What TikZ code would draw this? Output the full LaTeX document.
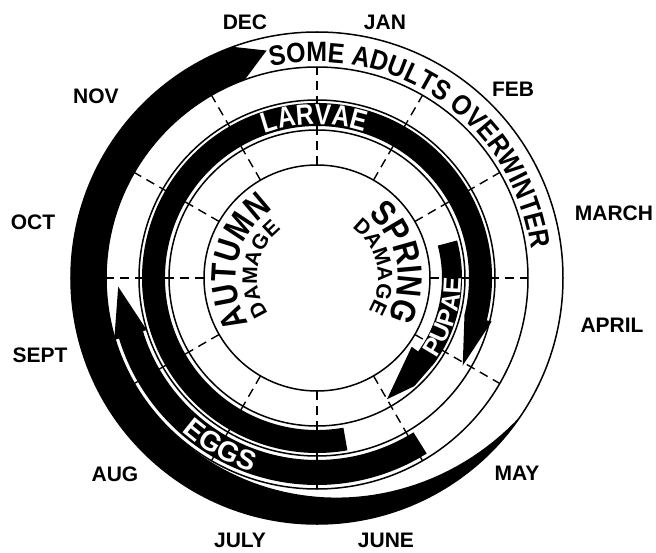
\documentclass[tikz,border=0pt]{standalone}
\usepackage{fontspec}
\setmainfont{Liberation Sans}
\newfontfamily\bandfont[FakeStretch=0.85]{Liberation Sans}
\newfontfamily\ringfont[FakeStretch=0.89]{Liberation Sans}
\usetikzlibrary{decorations.text}

\newcommand\seasonfont{\bandfont\bfseries\fontsize{35}{36}\selectfont}
\newcommand\damagefont{\bfseries\fontsize{21}{22}\selectfont}
\newcommand\larvaefont{\color{white}\bandfont\bfseries\fontsize{29}{30}\selectfont}
\newcommand\eggsfont{\color{white}\bfseries\fontsize{28}{29}\selectfont}
\newcommand\pupaefont{\color{white}\bfseries\fontsize{25}{26}\selectfont}
\newcommand\adultfont{\ringfont\bfseries\fontsize{28}{29}\selectfont}

\begin{document}
\begin{tikzpicture}[x=1pt, y=1pt,
    monthlabel/.style={font=\bfseries\fontsize{21}{22}\selectfont, inner sep=0pt},
    ringline/.style={line width=1.5pt},
    monthtick/.style={line width=1.4pt, dash pattern=on 9pt off 6pt},
    bandfill/.style={fill=black},
    curvetext/.style={decorate, decoration={text along path, text align=center, text={#1}}}
]
\useasboundingbox (-317,-274) rectangle (339,278);

% month boundaries
\foreach \a in {0,30,...,330}
  \draw[monthtick] (\a:113) -- (\a:211);

% rings
\foreach \r in {113,148,178,211,246}
  \draw[ringline] (0,0) circle[radius=\r];

% adults
\fill[bandfill] plot[domain=-34:-140, samples=50] (\x:{211+35*((\x+140)/106)^2})
    arc[start angle=-140, end angle=-250, radius=211]
    -- (-257.5:233) -- (-250:246)
    arc[start angle=-250, end angle=-34, radius=246] -- cycle;

% larvae
\fill[bandfill] (-80:152) arc[start angle=-80, end angle=-374, radius=152]
    -- (-391:170) -- (-374:180) -- (-374:175)
    arc[start angle=-374, end angle=-80, radius=175] -- cycle;

% eggs
\fill[bandfill] (-58:182) arc[start angle=-58, end angle=-163, radius=182]
    -- (-163:178) -- (-177.5:199) -- (-163:212) -- (-163:207)
    arc[start angle=-163, end angle=-58, radius=207] -- cycle;

% pupae
\fill[bandfill] (15:125) arc[start angle=15, end angle=-36, radius=125]
    -- (-36:117) -- (-60:140) -- (-48:145.5) -- (-36:145)
    arc[start angle=-36, end angle=15, radius=145] -- cycle;

% band texts
\path[curvetext={|\larvaefont|LARVAE}] (151:153.5) arc[start angle=151, end angle=31, radius=153.5];
\path[curvetext={|\eggsfont|EGGS}] (-160:204.5) arc[start angle=-160, end angle=-80, radius=204.5];
\path[curvetext={|\pupaefont|PUPAE}] (-47:144) arc[start angle=-47, end angle=13, radius=144];
\path[curvetext={|\adultfont|SOME ADULTS OVERWINTER}] (125:216) arc[start angle=125, end angle=-15, radius=216];

% damage texts
\path[curvetext={|\seasonfont|AUTUMN}] (238:81) arc[start angle=238, end angle=98, radius=81];
\path[curvetext={|\damagefont|DAMAGE}] (241:60) arc[start angle=241, end angle=101, radius=60];
\path[curvetext={|\seasonfont|SPRING}] (81:81) arc[start angle=81, end angle=-59, radius=81];
\path[curvetext={|\damagefont|DAMAGE}] (81.5:61) arc[start angle=81.5, end angle=-58.5, radius=61];

% months
\node[monthlabel] (jan) at (68,256) {JAN};
\node[monthlabel] (feb) at (196,189) {FEB};
\node[monthlabel] (mar) at (297,65) {MARCH};
\node[monthlabel] (apr) at (295,-47) {APRIL};
\node[monthlabel] (may) at (200,-195) {MAY};
\node[monthlabel] (jun) at (69,-262) {JUNE};
\node[monthlabel] (jul) at (-77,-262) {JULY};
\node[monthlabel] (aug) at (-202,-196) {AUG};
\node[monthlabel] (sep) at (-277,-77) {SEPT};
\node[monthlabel] (oct) at (-284,56) {OCT};
\node[monthlabel] (nov) at (-221,182) {NOV};
\node[monthlabel] (dec) at (-72,256) {DEC};
\end{tikzpicture}
\end{document}
